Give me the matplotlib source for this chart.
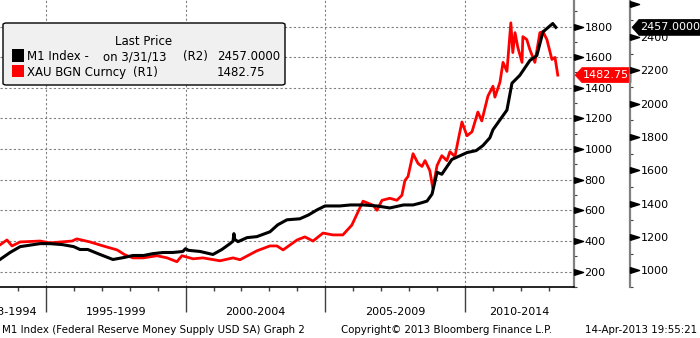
import matplotlib.pyplot as plt
from matplotlib.patches import FancyBboxPatch, Rectangle, Polygon
from matplotlib.transforms import blended_transform_factory, ScaledTranslation

plt.rcParams['font.family'] = 'DejaVu Sans'

# M1 money supply, USD bn (right-hand axis R2)
m1_t = [1993.36, 1993.72, 1994.08, 1994.79, 1995.15, 1995.6, 1996.0, 1996.22, 1996.5,
        1996.94, 1997.4, 1997.8, 1998.12, 1998.5, 1998.83, 1999.2, 1999.55, 1999.9,
        2000.0, 2000.1, 2000.52, 2000.98, 2001.3, 2001.59, 2001.70, 2001.73, 2001.76,
        2001.88, 2002.2, 2002.55, 2003.02, 2003.3, 2003.63, 2004.09, 2004.4, 2004.7,
        2004.99, 2005.52, 2005.9, 2006.35, 2006.85, 2007.31, 2007.8, 2008.14, 2008.4,
        2008.64, 2008.82, 2009.0, 2009.17, 2009.53, 2010.07, 2010.4, 2010.64, 2010.89,
        2011.0, 2011.25, 2011.5, 2011.68, 2011.96, 2012.32, 2012.57, 2012.79, 2013.14,
        2013.25]
m1_v = [1065, 1107, 1142, 1160, 1160, 1154, 1142, 1125, 1125,
        1095, 1065, 1077, 1089, 1089, 1100, 1107, 1107, 1113,
        1130, 1120, 1113, 1095, 1125, 1160, 1175, 1220, 1185,
        1172, 1196, 1202, 1231, 1273, 1303, 1309, 1332, 1362,
        1386, 1386, 1392, 1392, 1386, 1374, 1392, 1392, 1403,
        1415, 1457, 1588, 1576, 1665, 1706, 1718, 1748, 1795,
        1843, 1902, 1961, 2122, 2169, 2258, 2288, 2430, 2480,
        2457]

# Gold spot, USD/oz (axis R1)
gold_t = [1993.36, 1993.61, 1993.79, 1994.08, 1994.79, 1995.15, 1995.94, 1996.11, 1996.58,
          1997.05, 1997.55, 1997.83, 1998.12, 1998.48, 1998.98, 1999.34, 1999.69, 1999.87,
          2000.27, 2000.62, 2001.23, 2001.70, 2001.95, 2002.55, 2003.02, 2003.27, 2003.49,
          2003.99, 2004.27, 2004.56, 2004.92, 2005.27, 2005.63, 2005.95, 2006.35, 2006.71,
          2006.85, 2007.03, 2007.31, 2007.56, 2007.74, 2007.85, 2007.96, 2008.14, 2008.32,
          2008.46, 2008.57, 2008.74, 2008.85, 2009.00, 2009.17, 2009.35, 2009.46, 2009.64,
          2009.75, 2009.89, 2010.07, 2010.25, 2010.46, 2010.60, 2010.82, 2011.00, 2011.07,
          2011.25, 2011.36, 2011.50, 2011.64, 2011.71, 2011.79, 2011.89, 2012.04, 2012.07,
          2012.21, 2012.32, 2012.50, 2012.68, 2012.79, 2012.93, 2013.11, 2013.22, 2013.32]
gold_v = [375, 407, 368, 394, 400, 388, 400, 414, 394,
          368, 342, 310, 290, 290, 304, 290, 265, 304,
          284, 290, 271, 290, 278, 336, 368, 368, 342,
          407, 427, 400, 452, 440, 440, 504, 660, 634,
          601, 666, 679, 666, 698, 795, 821, 970, 906,
          887, 925, 860, 744, 893, 957, 925, 983, 951,
          1054, 1177, 1087, 1113, 1242, 1184, 1346, 1410, 1339,
          1436, 1566, 1507, 1824, 1630, 1760, 1663, 1566, 1734,
          1715, 1650, 1566, 1760, 1766, 1715, 1585, 1598, 1482.75]

m1_last = 2457.0000
gold_last = 1482.75

period_labels = ['1993-1994', '1995-1999', '2000-2004', '2005-2009', '2010-2014']
period_pos = [1993.6, 1997.5, 2002.5, 2007.5, 2011.95]
major_years = [1995, 2000, 2005, 2010]
minor_years = list(range(1994, 2014))

r1_ticks = list(range(200, 2000, 200))
r1_minor = list(range(100, 2000, 100))
r2_ticks = list(range(1000, 2800, 200))
r2_minor = list(range(900, 2700, 100))

W, H = 700, 338


def fpx(x, y):
    # pixel position (from top-left) -> figure fraction
    return x / W, 1 - y / H


fig = plt.figure(figsize=(W / 100, H / 100), dpi=100)
ax = fig.add_axes([0, 1 - 287 / H, 574 / W, 287 / H])
ax2 = ax.twinx()

ax.set_xlim(1993.36, 2013.9)
ax.set_ylim(116, 1973)
ax2.set_ylim(923, 2621)

ax.plot(gold_t, gold_v, color='#ff0000', lw=2.0, solid_joinstyle='round', zorder=3)
ax2.plot(m1_t, m1_v, color='black', lw=2.2, solid_joinstyle='round', zorder=3)

# dotted grid
ax.set_yticks(r1_ticks)
ax.set_yticks(r1_minor, minor=True)
ax.set_xticks(major_years)
ax.set_xticks(minor_years, minor=True)
ax.grid(True, which='major', color='#808080', linestyle=(0, (2, 2)), lw=0.8)

# spines
for s in ['top', 'left']:
    ax.spines[s].set_visible(False)
    ax2.spines[s].set_visible(False)
ax2.spines['bottom'].set_visible(False)
ax.spines['right'].set_color('#808080')
ax.spines['right'].set_linewidth(1.6)
ax.spines['bottom'].set_color('black')
ax.spines['bottom'].set_linewidth(1.2)
ax2.spines['right'].set_position(('axes', 630 / 574))
ax2.spines['right'].set_color('#808080')
ax2.spines['right'].set_linewidth(1.6)

# y axes: labels on the right, small minor ticks, flag markers for majors
ax.yaxis.tick_right()
for a in [ax, ax2]:
    a.tick_params(axis='y', which='major', length=0, pad=7.5, labelsize=8, labelcolor='black')
    a.tick_params(axis='y', which='minor', length=2.5, width=0.8, color='#404040', direction='out')
ax2.set_yticks(r2_ticks)
ax2.set_yticklabels([str(v) if v < 2600 else '' for v in r2_ticks])
ax2.set_yticks(r2_minor, minor=True)

flag = [(0, -1), (0, 1), (3.2, 0), (0, -1)]
ax.plot([1.0] * len(r1_ticks), r1_ticks, ls='none', marker=flag, ms=13, color='black',
        transform=ax.get_yaxis_transform(), clip_on=False, zorder=5)
ax2.plot([630 / 574] * len(r2_ticks), r2_ticks, ls='none', marker=flag, ms=13, color='black',
         transform=ax2.get_yaxis_transform(), clip_on=False, zorder=5)

# x axis: long separators at period boundaries, short yearly ticks
ax.tick_params(axis='x', which='major', length=18, width=1, color='#404040', labelbottom=False)
ax.tick_params(axis='x', which='minor', length=3, width=1, color='#404040')
xtr = blended_transform_factory(ax.transData, ax.transAxes)
for lab, pos in zip(period_labels, period_pos):
    ax.text(pos, -25 / 287, lab, transform=xtr, ha='center', va='center', fontsize=8)

# last-value flags on the right
red_tr = fig.dpi_scale_trans + ScaledTranslation(1.0, gold_last, ax.get_yaxis_transform())
red_pts = [(1, 0), (8, 7.5), (57, 7.5), (57, -7.5), (8, -7.5)]
ax.add_patch(Polygon([(x / 100, y / 100) for x, y in red_pts], closed=True, facecolor='#ff0000',
                     edgecolor='#ff0000', lw=0.5, transform=red_tr, clip_on=False, zorder=6))
ax.annotate(f'{gold_last:.2f}', xy=(1.0, gold_last), xycoords=ax.get_yaxis_transform(),
            xytext=(6.5, 0), textcoords='offset points', ha='left', va='center',
            color='white', fontsize=8, zorder=7, annotation_clip=False)

blk_tr = fig.dpi_scale_trans + ScaledTranslation(630 / 574, m1_last, ax2.get_yaxis_transform())
blk_pts = [(2, 0), (9, 8), (80, 8), (80, -8), (9, -8)]
ax2.add_patch(Polygon([(x / 100, y / 100) for x, y in blk_pts], closed=True, facecolor='black',
                      edgecolor='black', lw=0.5, transform=blk_tr, clip_on=False, zorder=6))
ax2.annotate(f'{m1_last:.4f}', xy=(630 / 574, m1_last), xycoords=ax2.get_yaxis_transform(),
             xytext=(7.2, 0), textcoords='offset points', ha='left', va='center',
             color='white', fontsize=8, zorder=7, annotation_clip=False)

# legend panel
x0, y1 = fpx(3, 85)
box = FancyBboxPatch((x0, y1), 282 / W, 62 / H, boxstyle='round,pad=0,rounding_size=0.005',
                     transform=fig.transFigure, facecolor='#f0f0f0', edgecolor='black', lw=1.0,
                     zorder=10)
fig.patches.append(box)
fig.patches.append(Rectangle(fpx(12, 62), 12 / W, 13 / H, transform=fig.transFigure,
                             facecolor='black', edgecolor='none', zorder=11))
fig.patches.append(Rectangle(fpx(12, 77), 12 / W, 12 / H, transform=fig.transFigure,
                             facecolor='#ff0000', edgecolor='none', zorder=11))
legend_items = [
    (144, 45, 'Last Price', 'center'),
    (27, 60, 'M1 Index -', 'left'),
    (103, 60, 'on 3/31/13', 'left'),
    (183, 60, '(R2)', 'left'),
    (217, 60, f'{m1_last:.4f}', 'left'),
    (27, 76, 'XAU BGN Curncy', 'left'),
    (133, 76, '(R1)', 'left'),
    (217, 76, f'{gold_last:.2f}', 'left'),
]
for x, y, s, ha in legend_items:
    fig.text(*fpx(x, y), s, ha=ha, va='baseline', fontsize=8.5, zorder=11)

# footer
fig.text(*fpx(2, 330), 'M1 Index (Federal Reserve Money Supply USD SA) Graph 2',
         ha='left', va='center', fontsize=7.4)
fig.text(*fpx(341, 330), 'Copyright\u00a9 2013 Bloomberg Finance L.P.',
         ha='left', va='center', fontsize=7.4)
fig.text(*fpx(697, 330), '14-Apr-2013 19:55:21', ha='right', va='center', fontsize=7.4)

fig.savefig('out.png', dpi=100, facecolor='white')
